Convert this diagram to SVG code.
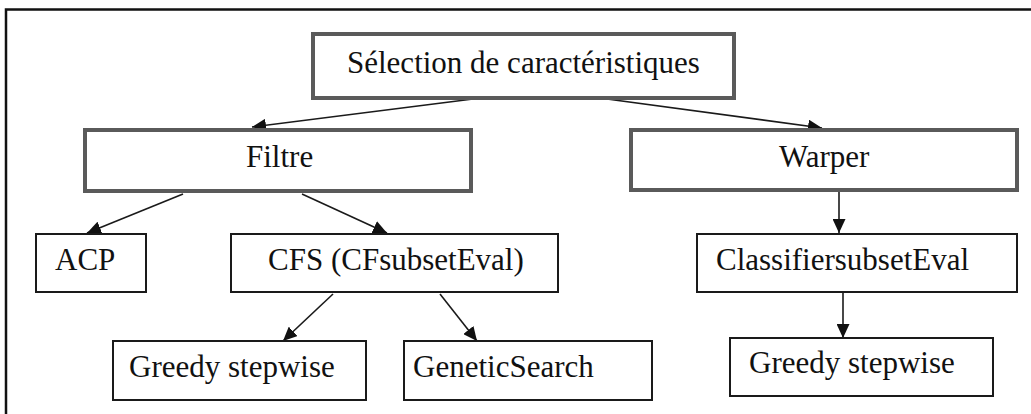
<svg xmlns="http://www.w3.org/2000/svg" width="1031" height="414" viewBox="0 0 1031 414">
  <style>
    .frame { fill: none; stroke: #111; stroke-width: 2.5; }
    .main { fill: #fff; stroke: #5a5a5a; stroke-width: 4; }
    .leaf { fill: #fff; stroke: #1a1a1a; stroke-width: 2; }
    .lbl { font-family: "Liberation Serif", "Times New Roman", serif; font-size: 31px; fill: #111; }
    .edge { stroke: #1a1a1a; stroke-width: 1.6; fill: none; marker-end: url(#arrow); }
  </style>
  <defs>
    <marker id="arrow" markerUnits="userSpaceOnUse" markerWidth="15" markerHeight="13" refX="14" refY="6.5" orient="auto">
      <path d="M0,0 L14,6.5 L0,13 Z" fill="#111"/>
    </marker>
  </defs>

  <rect width="1031" height="414" fill="#fff"/>
  <!-- outer frame -->
  <rect class="frame" x="6" y="9.5" width="1040" height="420"/>

  <g id="connectors">
    <line class="edge" x1="473" y1="99" x2="252" y2="127"/>
    <line class="edge" x1="607" y1="99" x2="822" y2="128"/>
    <line class="edge" x1="183" y1="194" x2="87" y2="233"/>
    <line class="edge" x1="302" y1="194" x2="387" y2="233"/>
    <line class="edge" x1="839" y1="192" x2="839" y2="233"/>
    <line class="edge" x1="333" y1="294" x2="283" y2="341"/>
    <line class="edge" x1="440" y1="294" x2="477" y2="341"/>
    <line class="edge" x1="843" y1="293" x2="843" y2="338"/>
  </g>

  <g id="selection">
    <rect class="main" x="313" y="34" width="421" height="64"/>
    <text class="lbl" x="347" y="73">Sélection de caractéristiques</text>
  </g>
  <g id="filtre">
    <rect class="main" x="85" y="130" width="386" height="61"/>
    <text class="lbl" x="246" y="167">Filtre</text>
  </g>
  <g id="warper">
    <rect class="main" x="631" y="130" width="386" height="60"/>
    <text class="lbl" x="779" y="167">Warper</text>
  </g>
  <g id="acp">
    <rect class="leaf" x="36" y="234" width="110" height="58"/>
    <text class="lbl" x="55" y="270">ACP</text>
  </g>
  <g id="cfs">
    <rect class="leaf" x="231" y="234" width="327" height="58"/>
    <text class="lbl" x="268" y="270">CFS (CFsubsetEval)</text>
  </g>
  <g id="classifier">
    <rect class="leaf" x="697" y="234" width="320" height="58"/>
    <text class="lbl" x="716" y="270">ClassifiersubsetEval</text>
  </g>
  <g id="greedy-left">
    <rect class="leaf" x="113" y="341" width="253" height="59"/>
    <text class="lbl" x="129" y="377">Greedy stepwise</text>
  </g>
  <g id="genetic">
    <rect class="leaf" x="404" y="341" width="248" height="59"/>
    <text class="lbl" x="413" y="377">GeneticSearch</text>
  </g>
  <g id="greedy-right">
    <rect class="leaf" x="730" y="338" width="263" height="58"/>
    <text class="lbl" x="749" y="373">Greedy stepwise</text>
  </g>
</svg>
